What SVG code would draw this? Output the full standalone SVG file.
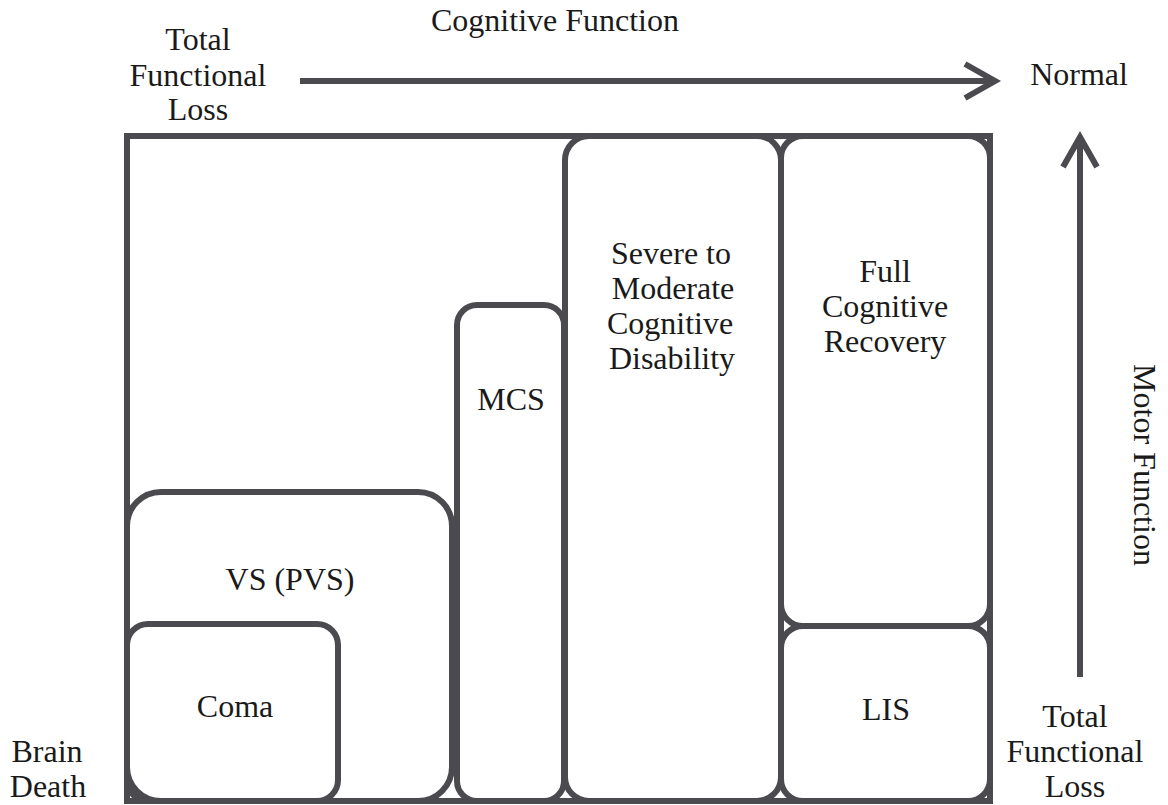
<svg xmlns="http://www.w3.org/2000/svg" width="1168" height="805" viewBox="0 0 1168 805">
<style>
  .box { fill: none; stroke: #4a4a4f; stroke-width: 6; }
  .lbl { font-family: "Liberation Serif", "Times New Roman", serif; font-size: 32px; fill: #1a1a1a; text-anchor: middle; }
  .arr { fill: none; stroke: #4a4a4f; stroke-width: 6; }
</style>
<defs>
  <marker id="chev" markerUnits="userSpaceOnUse" viewBox="-40 -24 48 48" markerWidth="48" markerHeight="48" refX="0" refY="0" orient="auto">
    <path d="M -30 -17 L 0 0 L -30 17" fill="none" stroke="#4a4a4f" stroke-width="6" stroke-linejoin="miter"/>
  </marker>
</defs>
<rect width="1168" height="805" fill="#ffffff"/>

<g id="frame">
  <rect class="box" x="127" y="136" width="863" height="665"/>
</g>
<g id="node-vs">
  <rect class="box" x="127" y="492" width="325" height="309" rx="34" ry="34"/>
  <text class="lbl" x="290" y="590">VS (PVS)</text>
</g>
<g id="node-coma">
  <rect class="box" x="127" y="624" width="211" height="177" rx="21" ry="21"/>
  <text class="lbl" x="235" y="717">Coma</text>
</g>
<g id="node-mcs">
  <rect class="box" x="457" y="305" width="107" height="496" rx="20" ry="20"/>
  <text class="lbl" x="511" y="410">MCS</text>
</g>
<g id="node-severe">
  <rect class="box" x="565" y="136" width="216" height="665" rx="24" ry="24"/>
  <text class="lbl" x="671" y="264">Severe to</text>
  <text class="lbl" x="673" y="299">Moderate</text>
  <text class="lbl" x="670" y="334">Cognitive</text>
  <text class="lbl" x="672" y="369">Disability</text>
</g>
<g id="node-full">
  <rect class="box" x="781" y="136" width="209" height="490" rx="22" ry="22"/>
  <text class="lbl" x="885" y="282">Full</text>
  <text class="lbl" x="885" y="317">Cognitive</text>
  <text class="lbl" x="885" y="352">Recovery</text>
</g>
<g id="node-lis">
  <rect class="box" x="781" y="626" width="209" height="175" rx="22" ry="22"/>
  <text class="lbl" x="886" y="720">LIS</text>
</g>

<g id="connectors">
  <line class="arr" x1="300" y1="81" x2="995" y2="81" marker-end="url(#chev)"/>
  <line class="arr" x1="1080" y1="677" x2="1080" y2="137" marker-end="url(#chev)"/>
</g>

<g id="axis-labels">
  <text class="lbl" x="555" y="31">Cognitive Function</text>
  <text class="lbl" x="198" y="50">Total</text>
  <text class="lbl" x="198" y="86">Functional</text>
  <text class="lbl" x="198" y="120">Loss</text>
  <text class="lbl" x="1079" y="85">Normal</text>
  <text class="lbl" transform="translate(1134,465) rotate(90)" x="0" y="0">Motor Function</text>
  <text class="lbl" x="1075" y="727">Total</text>
  <text class="lbl" x="1075" y="762">Functional</text>
  <text class="lbl" x="1075" y="797">Loss</text>
  <text class="lbl" x="47" y="762">Brain</text>
  <text class="lbl" x="48" y="797">Death</text>
</g>
</svg>
